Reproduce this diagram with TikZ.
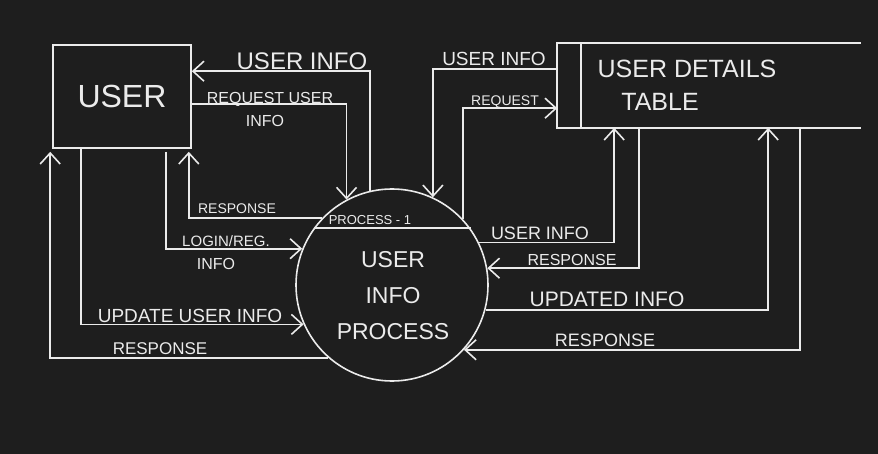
\documentclass[tikz,border=0pt]{standalone}
\usepackage{fontspec}
\setmainfont{Liberation Sans}
\usetikzlibrary{arrows.meta}
\definecolor{bg}{HTML}{1E1E1E}
\definecolor{ink}{HTML}{EBEBEB}
\newcommand{\sz}[1]{\fontsize{#1}{#1}\selectfont}
\tikzset{
  flow/.style={-{Straight Barb[length=11pt,width=20pt]}},
  lbl/.style={text=ink, inner sep=0pt},
}
\begin{document}
\begin{tikzpicture}[x=1pt,y=-1pt,line width=1.6pt,draw=ink]
\fill[bg] (0,0) rectangle (878,454);
\useasboundingbox (0,0) rectangle (878,454);
\node[draw, lbl, minimum width=138pt, minimum height=103pt] (user) at (122,96.5) {\sz{32}USER};
\node[draw, circle, minimum size=192pt, inner sep=0pt] (proc) at (392,285) {};
\node[lbl, align=center, font=\fontsize{23}{36}\selectfont] (proctxt) at (393,296) {USER\\INFO\\PROCESS};
\node[minimum width=302pt, minimum height=83pt, inner sep=0pt] (store) at (709,85.5) {};
\draw (store.north east) -- (store.north west) -- (store.south west) -- (store.south east);
\draw ([xshift=24pt]store.north west) -- ([xshift=24pt]store.south west);
\node[lbl] (storetxt1) at (687,69) {\sz{25}USER DETAILS};
\node[lbl] (storetxt2) at (660,102) {\sz{25}TABLE};
\draw (proc.144.3) -- (proc.144.3 -| proc.35.7);
\node[lbl] (pnum) at (370,220) {\sz{13}PROCESS - 1};
% user side
\draw[flow] (proc.103) |- ([yshift=-27pt]user.north east);
\node[lbl] (l1) at (302,61) {\sz{24}USER INFO};
\draw[flow] ([yshift=-60pt]user.north east) -| (proc.118.6);
\node[lbl] (l2) at (270,99) {\sz{16}REQUEST USER};
\node[lbl] (l2b) at (265,121) {\sz{16}INFO};
\draw[flow] (proc.136.6) -| ([xshift=-3pt,yshift=-3pt]user.south east);
\node[lbl] (l3) at (237,209) {\sz{14}RESPONSE};
\draw[flow] ([xshift=-26pt,yshift=-3pt]user.south east) |- (proc.158);
\node[lbl] (l4) at (226,241) {\sz{15}LOGIN/REG.};
\node[lbl] (l4b) at (216,264) {\sz{16}INFO};
\draw[flow] ([xshift=29pt]user.south west) |- (proc.204.6);
\node[lbl] (l5) at (190,316) {\sz{19}UPDATE USER INFO};
\draw[flow] (proc.229.5) -| ([xshift=-2pt,yshift=-3pt]user.south west);
\node[lbl] (l6) at (160,349) {\sz{17}RESPONSE};
% store side
\draw[flow] ([yshift=-26pt]store.north west) -| (proc.65.4);
\node[lbl] (r1) at (494,59) {\sz{19}USER INFO};
\draw[flow] (proc.43.2) |- ([yshift=-65pt]store.north west);
\node[lbl] (r2) at (505,102) {\sz{14}REQUEST};
\draw[flow] (proc.26.6) -| ([xshift=57pt]store.south west);
\node[lbl] (r3) at (540,233) {\sz{18}USER INFO};
\draw[flow] ([xshift=82pt]store.south west) |- (proc.10.8);
\node[lbl] (r4) at (572,260) {\sz{16}RESPONSE};
\draw[flow] (proc.-15.1) -| ([xshift=211pt]store.south west);
\node[lbl] (r5) at (607,299) {\sz{21}UPDATED INFO};
\draw[flow] ([xshift=243pt]store.south west) |- (proc.-42.6);
\node[lbl] (r6) at (605,340) {\sz{18}RESPONSE};
\end{tikzpicture}
\end{document}
